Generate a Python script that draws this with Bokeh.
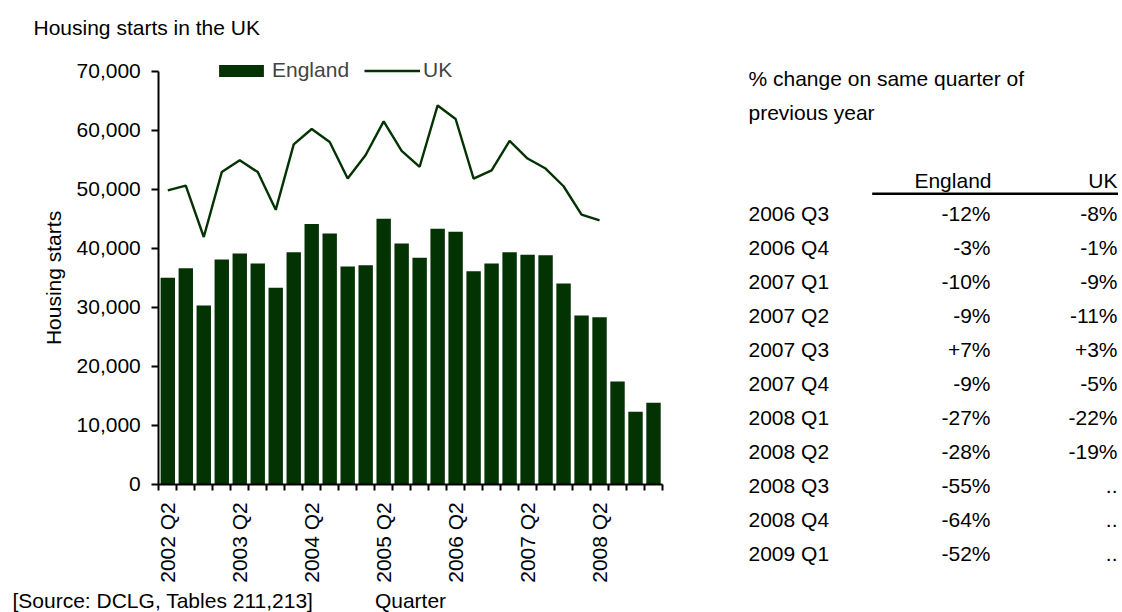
import math
from bokeh.plotting import figure
from bokeh.models import FixedTicker, NumeralTickFormatter, Legend, LegendItem, Range1d
from bokeh.core.properties import value
from bokeh.embed import file_html
from bokeh.resources import INLINE

# ---------------- data ----------------
quarters = ["2002 Q2", "2002 Q3", "2002 Q4",
            "2003 Q1", "2003 Q2", "2003 Q3", "2003 Q4",
            "2004 Q1", "2004 Q2", "2004 Q3", "2004 Q4",
            "2005 Q1", "2005 Q2", "2005 Q3", "2005 Q4",
            "2006 Q1", "2006 Q2", "2006 Q3", "2006 Q4",
            "2007 Q1", "2007 Q2", "2007 Q3", "2007 Q4",
            "2008 Q1", "2008 Q2", "2008 Q3", "2008 Q4",
            "2009 Q1"]
england = [35000, 36600, 30300, 38100, 39100, 37400, 33300, 39300,
           44100, 42500, 36900, 37100, 45000, 40800, 38400, 43300,
           42800, 36100, 37400, 39300, 38900, 38800, 34000, 28600,
           28300, 17400, 12300, 13800]
uk = [49800, 50600, 41900, 52900, 54900, 52900, 46500, 57600,
      60200, 58000, 51800, 55800, 61500, 56500, 53800, 64200,
      61900, 51800, 53200, 58200, 55200, 53500, 50500, 45700,
      44700]
y_ticks = [0, 10000, 20000, 30000, 40000, 50000, 60000, 70000]
label_every = 4

table_rows = ["2006 Q3", "2006 Q4", "2007 Q1", "2007 Q2", "2007 Q3", "2007 Q4",
              "2008 Q1", "2008 Q2", "2008 Q3", "2008 Q4", "2009 Q1"]
table_england = ["-12%", "-3%", "-10%", "-9%", "+7%", "-9%",
                 "-27%", "-28%", "-55%", "-64%", "-52%"]
table_uk = ["-8%", "-1%", "-9%", "-11%", "+3%", "-5%",
            "-22%", "-19%", "..", "..", ".."]
table_header = ["England", "UK"]

title_text = "Housing starts in the UK"
source_text = "[Source: DCLG, Tables 211,213]"
x_title = "Quarter"
y_title = "Housing starts"
table_title = ["% change on same quarter of", "previous year"]

# ---------------- styling / layout (pixels) ----------------
GREEN = "#033303"
FONT = "Liberation Sans"
FS = "21px"
W, H = 1122, 612
AX_L, AX_R = 158.3, 662.0     # pixel extent of the category axis
AX_B, AX_T = 483.7, 70.7      # pixel positions of 0 and of the top tick

n = len(quarters)
kx = (AX_R - AX_L) / n                  # px per quarter
ky = (AX_B - AX_T) / y_ticks[-1]        # px per housing start


def X(px):
    return (px - AX_L) / kx


def Y(py):
    return (AX_B - py) / ky


p = figure(width=W, height=H, min_border=0,
           x_range=Range1d(X(0), X(W)), y_range=Range1d(Y(H), Y(0)),
           output_backend="svg", toolbar_location=None, tools="")
p.outline_line_color = None
p.grid.visible = False
p.background_fill_color = "white"
p.border_fill_color = "white"

xs = [i + 0.5 for i in range(n)]
bars = p.vbar(x=xs, top=england, width=0.8, fill_color=GREEN, line_color=None)
line = p.line(x=xs[:len(uk)], y=uk, line_color=GREEN, line_width=2.4)

# y axis
ya = p.yaxis[0]
ya.fixed_location = 0
ya.bounds = (y_ticks[0], y_ticks[-1])
ya.ticker = FixedTicker(ticks=y_ticks, minor_ticks=[])
ya.formatter = NumeralTickFormatter(format="0,0")
ya.axis_line_color = "black"
ya.axis_line_width = 2
ya.major_tick_line_width = 2
ya.major_tick_out = 7
ya.major_tick_in = 0
ya.major_label_standoff = 11
ya.major_label_text_font = FONT
ya.major_label_text_font_size = FS
ya.major_label_text_color = "black"
ya.axis_label = y_title
ya.axis_label_text_font = FONT
ya.axis_label_text_font_size = FS
ya.axis_label_text_font_style = "normal"
ya.axis_label_text_color = "black"
ya.axis_label_standoff = 8

# x axis: marks between quarters, labels on every 4th quarter
xa = p.xaxis[0]
xa.fixed_location = 0
xa.bounds = (0, n)
lab_idx = list(range(0, n, label_every))
xa.ticker = FixedTicker(ticks=[xs[i] for i in lab_idx], minor_ticks=list(range(n + 1)))
xa.major_label_overrides = {xs[i]: quarters[i] for i in lab_idx}
xa.axis_line_color = "black"
xa.axis_line_width = 2
xa.major_tick_out = 0
xa.major_tick_in = 0
xa.minor_tick_out = 6
xa.minor_tick_in = 0
xa.minor_tick_line_width = 2
xa.minor_tick_line_color = "black"
xa.major_label_orientation = math.pi / 2
xa.major_label_standoff = 12
xa.major_label_text_font = FONT
xa.major_label_text_font_size = FS
xa.major_label_text_color = "black"
xa.axis_label = x_title
xa.axis_label_text_font = FONT
xa.axis_label_text_font_size = FS
xa.axis_label_text_font_style = "normal"
xa.axis_label_text_color = "black"
xa.axis_label_standoff = 3

legend = Legend(items=[LegendItem(label="England", renderers=[bars]),
                       LegendItem(label="UK", renderers=[line])],
                orientation="horizontal", location=(213, H - 82),
                border_line_alpha=0, background_fill_alpha=0,
                padding=0, margin=0, spacing=15, label_standoff=3,
                glyph_width=56, glyph_height=15,
                label_text_font=FONT, label_text_font_size=FS)
p.add_layout(legend)


def add_text(px, py, texts, align="left"):
    p.text(x=[X(v) for v in px], y=[Y(v) for v in py], text=texts,
           text_font=value(FONT), text_font_size=value(FS),
           text_align=value(align), text_baseline=value("middle"), text_color="black")


add_text([33], [26.7], [title_text])
add_text([12], [600], [source_text])

# table
row0, row_step = 213.3, 33.97
add_text([748, 748], [78, 112], table_title)
add_text([991, 1117], [180, 180], table_header, align="right")
p.segment(x0=[X(871.7)], y0=[Y(193.3)], x1=[X(1117.5)], y1=[Y(193.3)],
          line_color="black", line_width=2.5)
ys = [row0 + row_step * i for i in range(len(table_rows))]
add_text([748] * len(ys), ys, table_rows)
add_text([990] * len(ys), ys, table_england, align="right")
add_text([1117] * len(ys), ys, table_uk, align="right")

open("out.html", "w").write(file_html(p, INLINE))
